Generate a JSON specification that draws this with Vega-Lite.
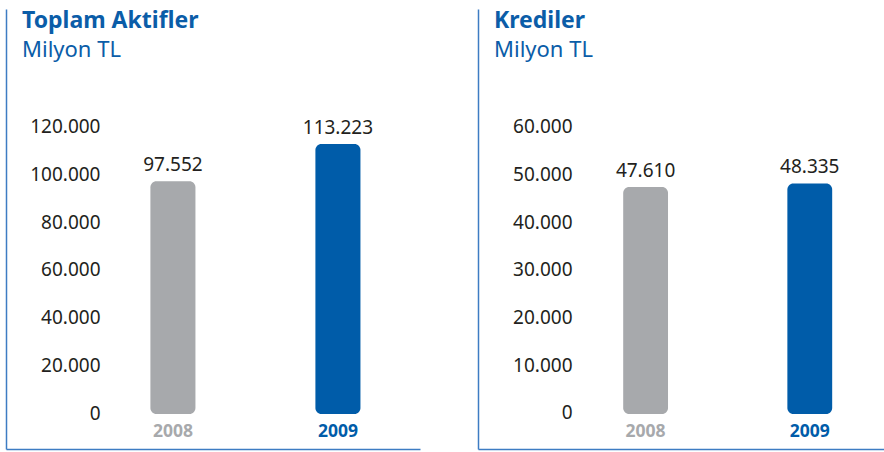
{
  "$schema": "https://vega.github.io/schema/vega-lite/v6.json",
  "padding": {"left": 6, "top": 9, "right": 0, "bottom": 2},
  "background": "white",
  "spacing": 58,
  "config": {
    "locale": {"number": {"decimal": ",", "thousands": ".", "grouping": [3], "currency": ["", ""]}},
    "view": {"stroke": null},
    "font": "Noto Sans",
    "title": {"anchor": "start", "frame": "group", "color": "#0B5DA8", "fontSize": 23, "fontWeight": "bold", "subtitleColor": "#0B5DA8", "subtitleFontSize": 22, "subtitleFontWeight": "normal", "subtitlePadding": 7, "dx": 16}
  },
  "hconcat": [
    {
      "width": 414,
      "height": 440,
      "title": {"text": "Toplam Aktifler", "subtitle": "Milyon TL", "offset": -52},
      "data": {"values": [{"year": "2008", "value": 97552}, {"year": "2009", "value": 113223}]},
      "encoding": {
        "x": {"field": "year", "type": "nominal", "sort": null,
          "scale": {"paddingInner": 0.727, "paddingOuter": 0.618, "align": 0.708},
          "axis": {"title": null, "ticks": false, "labelAngle": 0, "domainColor": "#3D7CC3", "domainWidth": 1.5, "labelPadding": -18, "labelBaseline": "middle", "labelFontSize": 17.5, "labelFontWeight": "bold", "labelColor": {"expr": "datum.value == '2009' ? '#005CA9' : '#A7A9AC'"}}},
        "y": {"field": "value", "type": "quantitative",
          "scale": {"domain": [-14675, 169811], "nice": false, "zero": false},
          "axis": {"title": null, "ticks": false, "grid": false, "values": [0, 20000, 40000, 60000, 80000, 100000, 120000], "format": ",d", "domainColor": "#3D7CC3", "domainWidth": 1.5, "labelPadding": -94, "labelAlign": "right", "labelFontSize": 19, "labelColor": "#231F20", "labelOffset": -1}}
      },
      "layer": [
        {"mark": {"type": "bar", "cornerRadius": 6}, "encoding": {"y2": {"datum": 0}, "color": {"field": "year", "type": "nominal", "scale": {"domain": ["2008", "2009"], "range": ["#A7A9AC", "#005CA9"]}, "legend": null}}},
        {"mark": {"type": "text", "baseline": "bottom", "dy": -6, "fontSize": 19, "color": "#231F20"}, "encoding": {"text": {"field": "value", "type": "quantitative", "format": ",d"}}}
      ]
    },
    {
      "width": 406,
      "height": 440,
      "title": {"text": "Krediler", "subtitle": "Milyon TL", "offset": -52},
      "data": {"values": [{"year": "2008", "value": 47610}, {"year": "2009", "value": 48335}]},
      "encoding": {
        "x": {"field": "year", "type": "nominal", "sort": null,
          "scale": {"paddingInner": 0.727, "paddingOuter": 0.6, "align": 0.737},
          "axis": {"title": null, "ticks": false, "labelAngle": 0, "domainColor": "#3D7CC3", "domainWidth": 1.5, "labelPadding": -18, "labelBaseline": "middle", "labelFontSize": 17.5, "labelFontWeight": "bold", "labelColor": {"expr": "datum.value == '2009' ? '#005CA9' : '#A7A9AC'"}}},
        "y": {"field": "value", "type": "quantitative",
          "scale": {"domain": [-7338, 84906], "nice": false, "zero": false},
          "axis": {"title": null, "ticks": false, "grid": false, "values": [0, 10000, 20000, 30000, 40000, 50000, 60000], "format": ",d", "domainColor": "#3D7CC3", "domainWidth": 1.5, "labelPadding": -94, "labelAlign": "right", "labelFontSize": 19, "labelColor": "#231F20", "labelOffset": -1}}
      },
      "layer": [
        {"mark": {"type": "bar", "cornerRadius": 6}, "encoding": {"y2": {"datum": 0}, "color": {"field": "year", "type": "nominal", "scale": {"domain": ["2008", "2009"], "range": ["#A7A9AC", "#005CA9"]}, "legend": null}}},
        {"mark": {"type": "text", "baseline": "bottom", "dy": -6, "fontSize": 19, "color": "#231F20"}, "encoding": {"text": {"field": "value", "type": "quantitative", "format": ",d"}}}
      ]
    }
  ]
}
